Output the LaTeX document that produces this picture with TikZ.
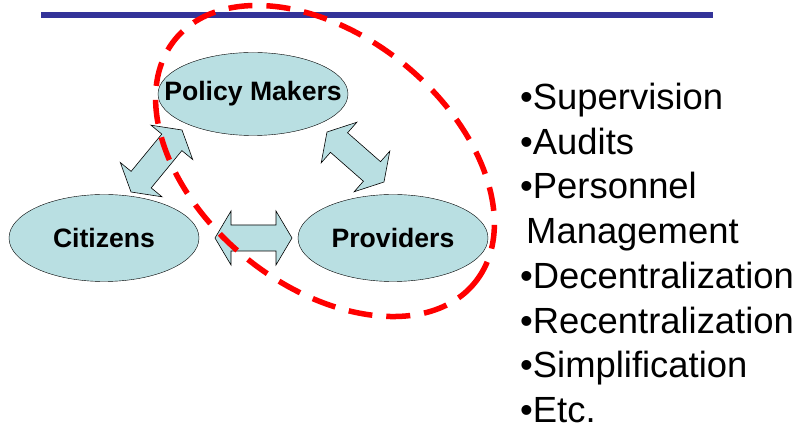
\documentclass[tikz,border=0pt]{standalone}
\usepackage{fontspec}
\setmainfont{Liberation Sans}
\usetikzlibrary{shapes.geometric,calc}
\definecolor{cellblue}{RGB}{185,223,226}
\definecolor{barblue}{RGB}{51,51,153}
\tikzset{
  actor/.style={
      draw,
      ellipse,
      fill=cellblue,
      inner sep=0pt,
      minimum width=190pt,
      minimum height=87pt,
      font=\bfseries\fontsize{26.6}{30}\selectfont
  },
  fat/.style={
      draw,
      fill=cellblue,
      line width=0.6pt,
      line join=miter
  },
  focus/.style={
      draw=red,
      ellipse,
      line width=5.5pt,
      dash pattern=on 24pt off 14pt,
      inner sep=0pt
  },
  items/.style={
      align=left,
      inner sep=0pt,
      font=\fontsize{36.4}{44.7}\selectfont
  }
}
% block arrow with a head at both ends, tip to tip
\newcommand\fatarrow[2]{
  \coordinate (p) at ($(#1)!16pt!(#2)$);
  \coordinate (q) at ($(#2)!16pt!(#1)$);
  \draw[fat] (#1) -- ($(p)!27pt!90:(#2)$) -- ($(p)!13pt!90:(#2)$)
    -- ($(q)!13pt!-90:(#1)$) -- ($(q)!27pt!-90:(#1)$) -- (#2)
    -- ($(q)!27pt!90:(#1)$) -- ($(q)!13pt!90:(#1)$)
    -- ($(p)!13pt!-90:(#2)$) -- ($(p)!27pt!-90:(#2)$) -- cycle;
}

\begin{document}
\begin{tikzpicture}[x=1pt,y=-1pt]
	\useasboundingbox (0,0) rectangle (801,430);
	\fill[barblue] (41,12) rectangle (713,18);

	\node[actor,minimum height=83pt] (pm) at (253,94) {\makebox[0pt]{Policy Makers}};
	\node[actor] (cit) at (104,238) {\makebox[0pt]{Citizens}};
	\node[actor] (prov) at (393,238) {\makebox[0pt]{Providers}};

	% arrow ends
	\coordinate (a1) at (131,192);
	\coordinate (a2) at (182,130);
	\coordinate (b1) at (327,132);
	\coordinate (b2) at (384,182);
	\coordinate (c1) at (215,238);
	\coordinate (c2) at (292,238);
	\fatarrow{a1}{a2}
	\fatarrow{b1}{b2}
	\fatarrow{c1}{c2}

	\node[focus,rotate=-39,minimum width=386pt,minimum height=250pt] (grp) at (325,161) {};

	\node[items,anchor=north west] (list) at (520,83) {%
		•Supervision\\
		•Audits\\
		•Personnel\\
		\hspace*{6pt}Management\\
		•Decentralization\\
		•Recentralization\\
		•Simplification\\
		•Etc.};
\end{tikzpicture}
\end{document}
